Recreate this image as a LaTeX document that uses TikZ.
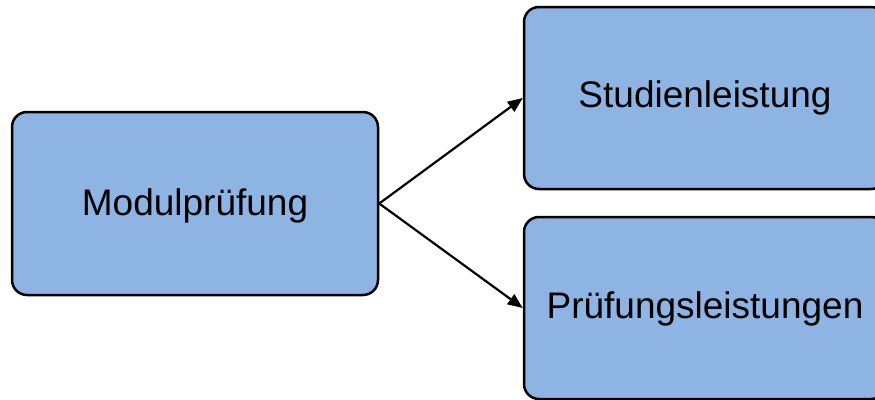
\documentclass[tikz,border=0pt]{standalone}
\usepackage{fontspec}
\setmainfont{Liberation Sans}
\usetikzlibrary{arrows.meta}
\definecolor{boxblue}{HTML}{8EB4E3}
\tikzset{
  box/.style={draw=black, line width=2.5pt, fill=boxblue, rounded corners=15pt, inner sep=0pt},
  lbl/.style={anchor=base, inner sep=0pt, font=\fontsize{37}{44}\selectfont},
  conn/.style={line width=2.2pt, -{Triangle[length=15pt,width=12pt]}}
}
\begin{document}
\begin{tikzpicture}[x=1pt,y=-1pt]
\useasboundingbox (0,0) rectangle (875,399);
\clip (0,0) rectangle (875,399);
\node[box, minimum width=366pt, minimum height=183pt] (m) at (195,203.5) {};
\node[box, minimum width=362pt, minimum height=182pt] (s) at (705,98) {};
\node[box, minimum width=362pt, minimum height=182pt] (p) at (705,308) {};
\node[lbl] (mt) at (195,215) {Modulprüfung};
\node[lbl] (st) at (705,107) {Studienleistung};
\node[lbl] (pt) at (705,318) {Prüfungsleistungen};
\draw[conn] (m.east) -- (s.west);
\draw[conn] (m.east) -- (p.west);
\end{tikzpicture}
\end{document}
